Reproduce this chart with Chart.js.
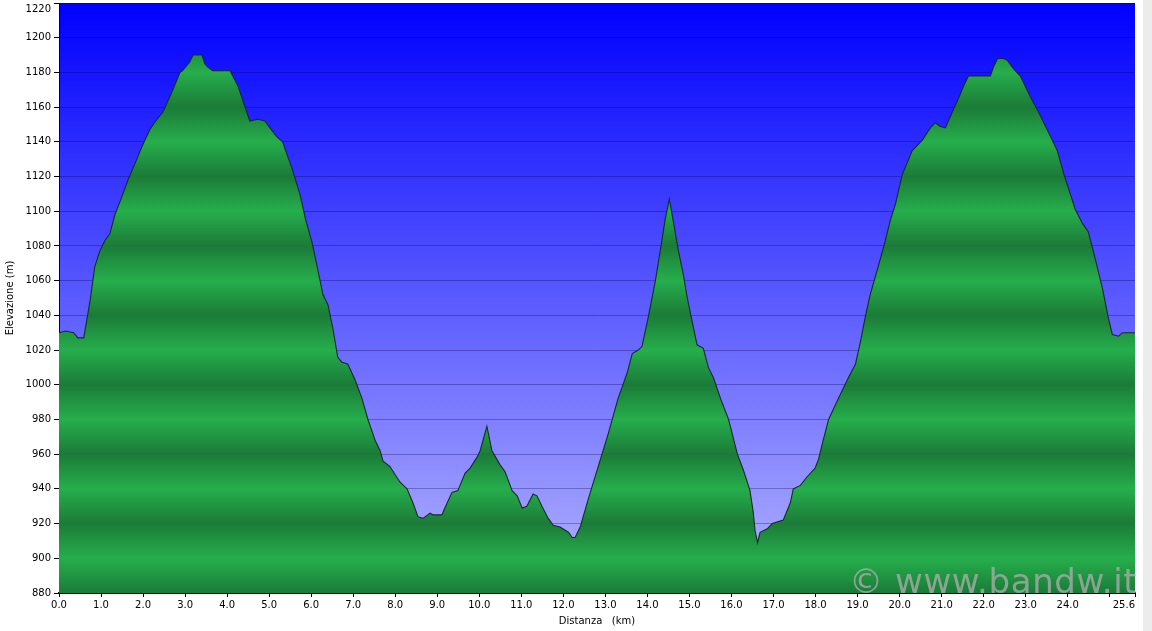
<!DOCTYPE html>
<html>
<head>
<meta charset="utf-8">
<script src="https://cdn.jsdelivr.net/npm/chart.js@4.4.1/dist/chart.umd.min.js"></script>
<style>
    html, body { margin: 0; padding: 0; background: #fff; }
    #wrap { position: relative; width: 1152px; height: 631px; overflow: hidden; }
    #profile { position: absolute; left: 0; top: 0; }
    .strip { position: absolute; left: 1143px; top: 0; width: 9px; height: 631px; background: #ececec; }
    .mark { position: absolute; left: 849px; top: 564px; font: 34px 'DejaVu Sans', sans-serif; line-height: 1; letter-spacing: 0.6px; color: rgba(175, 175, 175, 0.75); white-space: nowrap; }
</style>
</head>
<body>
<div id="wrap">
    <canvas id="profile" width="1152" height="631"></canvas>
    <div class="strip"></div>
    <div class="mark">© www.bandw.it</div>
</div>
<script>
// profilo altimetrico: distanza (km) / quota (m)
const distanceKm = [
    0.00, 0.16, 0.35, 0.45, 0.59, 0.68, 0.75, 0.85, 0.97, 1.09,
    1.21, 1.33, 1.49, 1.64, 1.80, 1.97, 2.16, 2.30, 2.47, 2.71,
    2.88, 2.94, 3.11, 3.19, 3.40, 3.47, 3.54, 3.66, 4.07, 4.26,
    4.54, 4.73, 4.90, 5.02, 5.18, 5.32, 5.42, 5.54, 5.73, 5.87,
    6.02, 6.16, 6.28, 6.40, 6.52, 6.63, 6.73, 6.87, 7.04, 7.21,
    7.35, 7.52, 7.64, 7.71, 7.87, 8.11, 8.28, 8.42, 8.54, 8.66,
    8.83, 8.90, 9.11, 9.18, 9.35, 9.49, 9.66, 9.78, 9.94, 10.02,
    10.18, 10.30, 10.49, 10.61, 10.78, 10.90, 11.02, 11.13, 11.28, 11.37,
    11.49, 11.64, 11.76, 11.92, 12.12, 12.21, 12.28, 12.40, 12.59, 12.83,
    13.07, 13.30, 13.52, 13.64, 13.78, 13.87, 14.02, 14.19, 14.31, 14.42,
    14.52, 14.61, 14.73, 14.85, 14.94, 15.06, 15.18, 15.33, 15.45, 15.57,
    15.74, 15.93, 16.14, 16.28, 16.44, 16.52, 16.56, 16.62, 16.68, 16.85,
    16.97, 17.23, 17.40, 17.47, 17.64, 17.80, 17.99, 18.07, 18.16, 18.31,
    18.54, 18.78, 18.95, 19.07, 19.19, 19.30, 19.49, 19.66, 19.78, 19.90,
    20.06, 20.30, 20.54, 20.73, 20.85, 20.96, 21.09, 21.25, 21.40, 21.52,
    21.64, 22.16, 22.23, 22.33, 22.47, 22.56, 22.68, 22.75, 22.87, 23.11,
    23.35, 23.59, 23.75, 23.90, 24.06, 24.18, 24.35, 24.49, 24.66, 24.83,
    24.97, 25.06, 25.21, 25.30, 25.60
];
const elevationM = [
    1030, 1031, 1030, 1027, 1027, 1040, 1050, 1068, 1077, 1083,
    1087, 1098, 1108, 1118, 1127, 1137, 1147, 1152, 1157, 1170,
    1180, 1181, 1186, 1190, 1190, 1185, 1183, 1181, 1181, 1172,
    1152, 1153, 1152, 1148, 1143, 1140, 1133, 1125, 1110, 1095,
    1082, 1066, 1052, 1046, 1032, 1016, 1013, 1012, 1003, 992,
    980, 968, 962, 956, 953, 944, 940, 932, 924, 923,
    926, 925, 925, 929, 938, 939, 949, 952, 958, 962,
    976, 962, 954, 950, 939, 936, 929, 930, 937, 936,
    930, 923, 919, 918, 915, 912, 912, 918, 934, 953,
    972, 992, 1007, 1018, 1020, 1022, 1039, 1060, 1078, 1095,
    1107, 1095, 1078, 1064, 1051, 1037, 1023, 1021, 1010, 1004,
    992, 980, 960, 951, 939, 926, 916, 909, 915, 917,
    920, 922, 932, 940, 942, 947, 952, 957, 966, 980,
    992, 1004, 1012, 1025, 1040, 1052, 1068, 1083, 1095, 1104,
    1121, 1135, 1141, 1148, 1151, 1149, 1148, 1157, 1165, 1172,
    1178, 1178, 1183, 1188, 1188, 1187, 1183, 1181, 1178, 1166,
    1155, 1143, 1135, 1122, 1110, 1101, 1093, 1088, 1072, 1055,
    1038, 1029, 1028, 1030, 1030
];
const xTickValues = [0, 1, 2, 3, 4, 5, 6, 7, 8, 9, 10, 11, 12, 13, 14, 15, 16, 17, 18, 19, 20, 21, 22, 23, 24, 25, 25.6];
const hiddenXLabels = [25];
const yMin = 880;
const yMax = 1220;
const yStep = 20;
const xMax = 25.6;

const darkGreen = '#1b7b38';
const lightGreen = '#26ae4c';
const tickFont = { family: "'DejaVu Sans', Verdana, sans-serif", size: 10 };

// sfondo blu sfumato dell'area del grafico
const skyPlugin = {
    id: 'sky',
    beforeDraw(chart) {
        const { ctx, chartArea: a } = chart;
        const g = ctx.createLinearGradient(0, a.top, 0, a.bottom);
        g.addColorStop(0, '#0000ff');
        g.addColorStop(1, '#b4b4ff');
        ctx.save();
        ctx.fillStyle = g;
        ctx.fillRect(a.left, a.top, a.right - a.left, a.bottom - a.top);
        ctx.restore();
    }
};

// bande verdi: scuro ogni 40 m, chiaro in mezzo
function profileFill(context) {
    const chart = context.chart;
    const a = chart.chartArea;
    if (!a) return lightGreen;
    const yScale = chart.scales.y;
    const g = chart.ctx.createLinearGradient(0, a.top, 0, a.bottom);
    for (let v = yMin; v <= yMax; v += yStep) {
        let p = (yScale.getPixelForValue(v) - a.top) / (a.bottom - a.top);
        p = Math.min(1, Math.max(0, p));
        g.addColorStop(p, ((v - yMin) / yStep) % 2 === 0 ? darkGreen : lightGreen);
    }
    return g;
}

function xLabel(v) {
    if (hiddenXLabels.includes(v)) return '';
    // l'ultima etichetta sta a sinistra della tacca finale
    if (v === xMax) return v.toFixed(1) + '\u00a0\u00a0\u00a0\u00a0\u00a0\u00a0\u00a0';
    return v.toFixed(1);
}

new Chart(document.getElementById('profile'), {
    type: 'line',
    data: {
        datasets: [{
            data: distanceKm.map((d, i) => ({ x: d, y: elevationM[i] })),
            fill: 'start',
            backgroundColor: profileFill,
            borderColor: '#0f3318',
            borderWidth: 1.1,
            pointRadius: 0,
            tension: 0
        }]
    },
    options: {
        responsive: false,
        animation: false,
        devicePixelRatio: 1,
        layout: { padding: { top: 3, right: 17, left: 0, bottom: 0 } },
        plugins: { legend: { display: false }, tooltip: { enabled: false } },
        scales: {
            x: {
                type: 'linear',
                min: 0,
                max: xMax,
                z: 1,
                afterBuildTicks: (scale) => { scale.ticks = xTickValues.map(v => ({ value: v })); },
                afterFit: (scale) => { scale.height = 38; scale.paddingLeft = 0; scale.paddingRight = 0; },
                ticks: {
                    color: '#000',
                    font: tickFont,
                    padding: 2,
                    maxRotation: 0,
                    autoSkip: false,
                    callback: xLabel
                },
                grid: { drawOnChartArea: false, drawTicks: true, tickLength: 4, tickColor: '#000' },
                border: { color: '#000', width: 2 },
                title: {
                    display: true,
                    text: 'Distanza   (km)',
                    color: '#000',
                    font: tickFont,
                    padding: { top: 0, bottom: 4 }
                }
            },
            y: {
                min: yMin,
                max: yMax,
                z: 1,
                afterFit: (scale) => { scale.width = 59; scale.paddingTop = 0; scale.paddingBottom = 0; },
                ticks: {
                    stepSize: yStep,
                    color: '#000',
                    font: tickFont,
                    padding: 3,
                    callback: (v) => v === yMax ? ['', String(v)] : String(v)
                },
                grid: { color: 'rgba(0, 0, 60, 0.3)', lineWidth: 1, drawTicks: true, tickLength: 5, tickColor: '#000' },
                border: { color: '#000', width: 1 },
                title: {
                    display: true,
                    text: 'Elevazione (m)',
                    color: '#000',
                    font: tickFont,
                    padding: { top: 4, bottom: 0 }
                }
            }
        }
    },
    plugins: [skyPlugin]
});
</script>
</body>
</html>
